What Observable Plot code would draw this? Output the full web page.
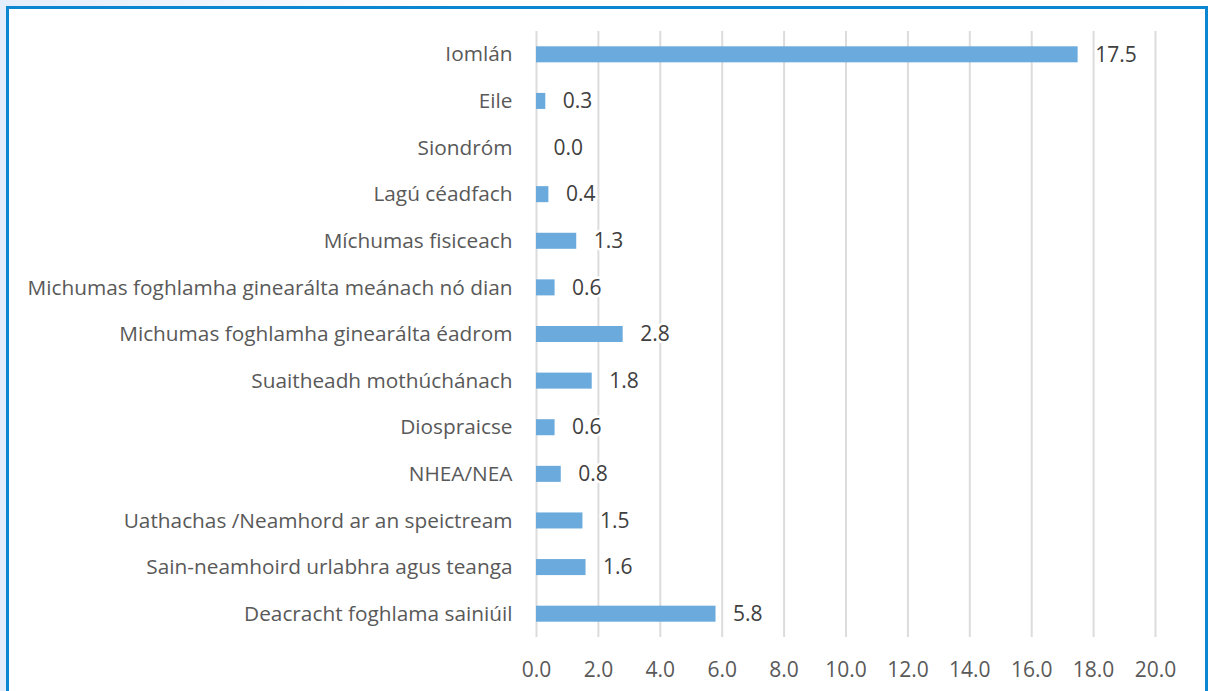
<!DOCTYPE html>
<html>
<head>
<meta charset="utf-8">
<script src="https://cdn.jsdelivr.net/npm/d3@7"></script>
<script src="https://cdn.jsdelivr.net/npm/@observablehq/plot@0.6"></script>
<style>
  html, body { margin: 0; padding: 0; width: 1214px; height: 691px; overflow: hidden; }
  body { background: linear-gradient(to right, #e3eefa 0px, #eef4fc 200px, #ffffff 450px); position: relative; font-family: "Open Sans", sans-serif; }
  #frame { position: absolute; left: 6px; top: 6px; width: 1202px; height: 700px; border: 3px solid #0a87d0; background: #ffffff; box-sizing: border-box; }
  #chart { position: absolute; left: 0; top: 0; }
</style>
</head>
<body>
<div id="frame"></div>
<div id="chart"></div>
<script>
const categories = [
  "Iomlán",
  "Eile",
  "Siondróm",
  "Lagú céadfach",
  "Míchumas fisiceach",
  "Michumas foghlamha ginearálta meánach nó dian",
  "Michumas foghlamha ginearálta éadrom",
  "Suaitheadh mothúchánach",
  "Diospraicse",
  "NHEA/NEA",
  "Uathachas /Neamhord ar an speictream",
  "Sain-neamhoird urlabhra agus teanga",
  "Deacracht foghlama sainiúil"
];
const values = [17.5, 0.3, 0.0, 0.4, 1.3, 0.6, 2.8, 1.8, 0.6, 0.8, 1.5, 1.6, 5.8];
const xTicks = [0, 2, 4, 6, 8, 10, 12, 14, 16, 18, 20];

const data = categories.map((c, i) => ({category: c, value: values[i]}));

const chart = Plot.plot({
  width: 1214,
  height: 691,
  marginLeft: 536,
  marginRight: 59,
  marginTop: 31,
  marginBottom: 54,
  style: {fontFamily: "'Open Sans', sans-serif", fontSize: "21px", color: "#595959", background: "transparent"},
  x: {domain: [0, 20], ticks: xTicks, tickFormat: d => d.toFixed(1), label: null},
  y: {domain: categories, padding: 0, round: false, label: null},
  marks: [
    Plot.ruleX(xTicks, {stroke: "#dcdcdc", strokeWidth: 2}),
    Plot.barX(data, {x: "value", y: "category", fill: "#6aaadc", insetTop: 15.3, insetBottom: 15.3}),
    Plot.text(data, {x: "value", y: "category", text: d => d.value.toFixed(1), dx: 17, textAnchor: "start", fill: "#404040", stroke: "white", strokeWidth: 5, fontSize: 21}),
    Plot.axisY({tickSize: 0, tickPadding: 24, fontSize: 20.8, fill: "#595959"}),
    Plot.axisX({tickSize: 0, tickPadding: 25, fontSize: 21, fill: "#595959", tickFormat: d => d.toFixed(1), ticks: xTicks})
  ]
});
document.getElementById("chart").appendChild(chart);
</script>
</body>
</html>
